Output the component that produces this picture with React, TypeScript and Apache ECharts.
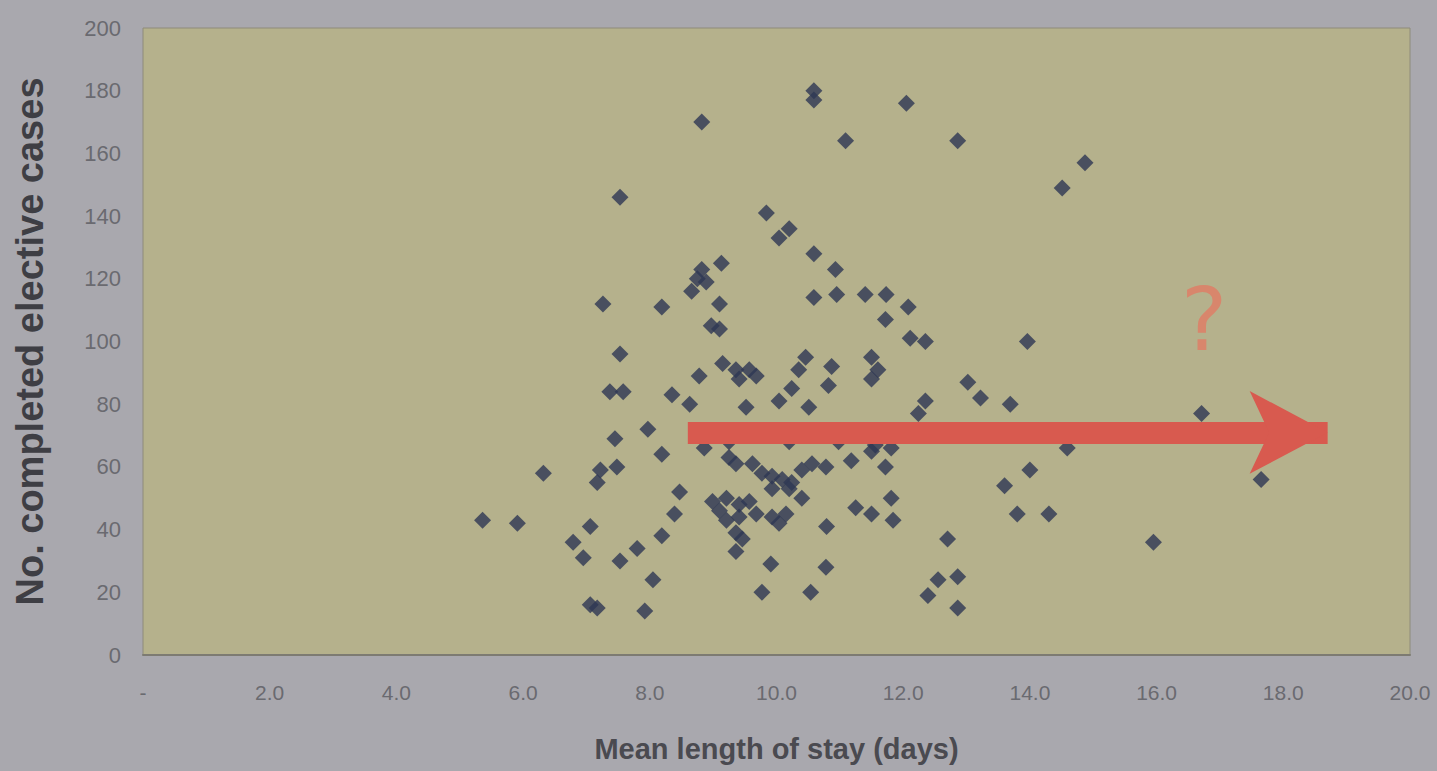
import React, { useEffect, useRef } from "react";
import * as echarts from "echarts";

const xTicks = [0, 2, 4, 6, 8, 10, 12, 14, 16, 18, 20];
const yTicks = [0, 20, 40, 60, 80, 100, 120, 140, 160, 180, 200];

// Mean length of stay (days)
const stayDays = [
  8.82, 10.59, 10.59, 11.09, 12.05, 12.86, 14.87, 14.51, 7.53, 9.84,
  10.04, 10.2, 10.59, 10.93, 10.59, 10.95, 11.4, 11.73, 12.08, 11.72,
  12.11, 12.35, 13.96, 7.26, 8.19, 9.13, 8.82, 8.75, 8.89, 8.66,
  9.1, 8.97, 9.1, 7.53, 7.37, 7.58, 8.35, 8.63, 8.78, 9.15,
  9.36, 9.57, 9.68, 9.41, 9.52, 10.04, 10.46, 10.35, 10.24, 10.87,
  10.82, 11.5, 11.6, 11.5, 10.51, 12.35, 12.24, 13.02, 13.22, 13.69,
  16.71, 17.65, 15.95, 14.59, 14.0, 13.6, 13.8, 14.3, 12.7, 12.55,
  12.86, 12.39, 12.86, 11.25, 11.5, 11.81, 11.84, 10.78, 11.18, 11.5,
  11.72, 11.81, 10.79, 10.78, 10.54, 9.77, 9.91, 5.36, 5.91, 6.32,
  7.22, 7.48, 7.17, 7.45, 7.06, 6.79, 6.95, 7.06, 7.17, 7.53,
  7.8, 8.05, 7.92, 8.19, 8.39, 8.47, 7.97, 8.19, 8.86, 9.25,
  9.36, 9.62, 9.77, 9.93, 10.09, 10.24, 10.4, 10.56, 8.99, 9.21,
  9.1, 9.41, 9.57, 9.93, 10.2, 10.4, 9.21, 9.41, 9.68, 9.93,
  10.04, 10.15, 9.36, 9.46, 9.36, 9.25, 10.2, 10.98, 11.56, 9.73,
];

// No. completed elective cases
const electiveCases = [
  170, 180, 177, 164, 176, 164, 157, 149, 146, 141,
  133, 136, 128, 123, 114, 115, 115, 115, 111, 107,
  101, 100, 100, 112, 111, 125, 123, 120, 119, 116,
  112, 105, 104, 96, 84, 84, 83, 80, 89, 93,
  91, 91, 89, 88, 79, 81, 95, 91, 85, 92,
  86, 95, 91, 88, 79, 81, 77, 87, 82, 80,
  77, 56, 36, 66, 59, 54, 45, 45, 37, 24,
  25, 19, 15, 47, 45, 50, 43, 60, 62, 65,
  60, 66, 41, 28, 20, 20, 29, 43, 42, 58,
  59, 60, 55, 69, 41, 36, 31, 16, 15, 30,
  34, 24, 14, 38, 45, 52, 72, 64, 66, 63,
  61, 61, 58, 57, 56, 55, 59, 61, 49, 50,
  46, 48, 49, 53, 53, 50, 43, 44, 45, 44,
  42, 45, 39, 37, 33, 68, 68, 68, 67, 71,
];

const arrowFrom = [8.6, 71];
const arrowTo = [18.7, 71];
const questionAt = [16.75, 107];

export default function App() {
  const ref = useRef<HTMLDivElement>(null);

  useEffect(() => {
    document.body.style.margin = "0";
    document.body.style.background = "#a9a8ae";
    const chart = echarts.init(ref.current!, null, { renderer: "svg" });
    const points = stayDays.map((x, i) => [x, electiveCases[i]]);
    chart.setOption({
      animation: false,
      backgroundColor: "#a9a8ae",
      grid: {
        left: 143,
        right: 27,
        top: 28,
        bottom: 116,
        show: true,
        backgroundColor: "#b5b18c",
        borderColor: "#8e8b7a",
        borderWidth: 1,
      },
      xAxis: {
        type: "value",
        min: xTicks[0],
        max: xTicks[xTicks.length - 1],
        interval: 2,
        name: "Mean length of stay (days)",
        nameLocation: "middle",
        nameGap: 79,
        nameTextStyle: {
          fontFamily: "Liberation Sans",
          fontWeight: "bold",
          fontSize: 29,
          color: "#4a4a50",
        },
        axisLine: { show: true, lineStyle: { color: "#7d7b72", width: 2 } },
        axisTick: { show: false },
        splitLine: { show: false },
        axisLabel: {
          margin: 27,
          fontFamily: "Liberation Sans",
          fontSize: 21,
          color: "#6a6a70",
          formatter: (v: number) => (v === 0 ? "-" : v.toFixed(1)),
        },
      },
      yAxis: {
        type: "value",
        min: yTicks[0],
        max: yTicks[yTicks.length - 1],
        interval: 20,
        name: "No. completed elective cases",
        nameLocation: "middle",
        nameGap: 94,
        nameTextStyle: {
          fontFamily: "Liberation Sans",
          fontWeight: "bold",
          fontSize: 38,
          color: "#3e3e44",
        },
        axisLine: { show: false },
        axisTick: { show: false },
        splitLine: { show: false },
        axisLabel: {
          margin: 22,
          fontFamily: "Liberation Sans",
          fontSize: 22,
          color: "#6a6a70",
        },
      },
      series: [
        {
          type: "scatter",
          data: points,
          symbol: "diamond",
          symbolSize: 17,
          itemStyle: { color: "#2e3754" },
          z: 2,
        },
        {
          type: "scatter",
          data: [],
          z: 5,
          markLine: {
            silent: true,
            symbol: ["none", "arrow"],
            symbolSize: [62, 78],
            lineStyle: { color: "#d85a4f", width: 22, type: "solid" },
            label: { show: false },
            data: [[{ coord: arrowFrom }, { coord: arrowTo }]],
          },
          markPoint: {
            silent: true,
            symbol: "circle",
            symbolSize: 1,
            itemStyle: { color: "rgba(0,0,0,0)" },
            label: {
              show: true,
              position: "inside",
              formatter: "?",
              fontFamily: "DejaVu Sans",
              fontSize: 88,
              fontWeight: "normal",
              color: "#d8866c",
            },
            data: [{ coord: questionAt }],
          },
        },
      ],
    });
    return () => chart.dispose();
  }, []);

  return <div ref={ref} style={{ width: 1437, height: 771 }} />;
}
